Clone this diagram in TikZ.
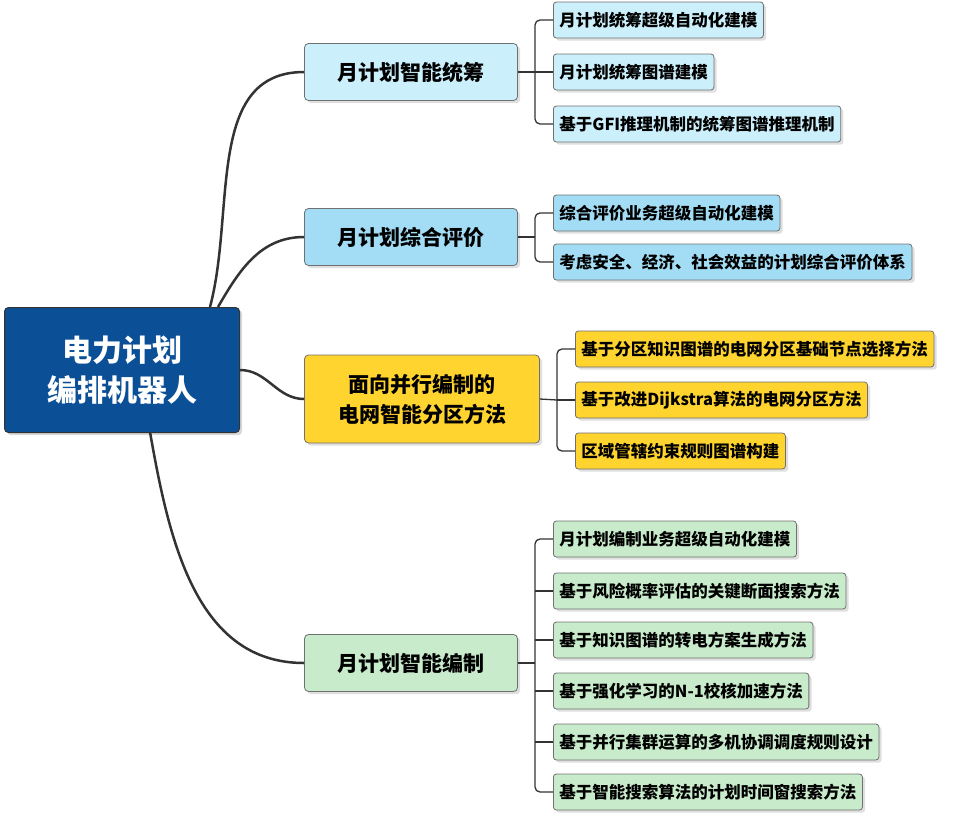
\documentclass[tikz,border=0pt]{standalone}
\usepackage{fontspec}
\setmainfont{Noto Sans CJK SC}
\usetikzlibrary{shadows}
\definecolor{rootblue}{HTML}{0B4F96}
\definecolor{cyanA}{HTML}{CBEFFB}
\definecolor{cyanB}{HTML}{A3DDF5}
\definecolor{yel}{HTML}{FFD42E}
\definecolor{grn}{HTML}{C8EBCB}
\definecolor{lin}{HTML}{333333}
\tikzset{
  rootbox/.style={draw=lin, line width=1pt, fill=rootblue, rounded corners=4pt, text=white,
    font=\fontsize{30}{40}\selectfont\bfseries, minimum width=235pt, minimum height=125pt,
    align=center, drop shadow={opacity=0.3}},
  mainbox/.style={draw=lin!70, line width=0.8pt, rounded corners=4pt, font=\fontsize{21}{30}\selectfont\bfseries,
    minimum width=213pt, minimum height=57pt, align=center, drop shadow={opacity=0.25}},
  leafbox/.style={draw=lin!70, line width=0.8pt, rounded corners=3pt, font=\fontsize{16.5}{20}\selectfont\bfseries,
    minimum height=36pt, inner xsep=6pt, anchor=west, drop shadow={opacity=0.25}},
  link/.style={draw=lin, line width=2.5pt},
  sublink/.style={draw=lin, line width=1.3pt, rounded corners=5pt}
}
\begin{document}
\begin{tikzpicture}[x=1pt, y=-1pt]
\useasboundingbox (0,0) rectangle (977,815);

\node[rootbox] (root) at (122,370) {电力计划\\编排机器人};

\node[mainbox, fill=cyanA] (m1) at (411,72) {月计划智能统筹};
\node[mainbox, fill=cyanB] (m2) at (411,237) {月计划综合评价};
\node[mainbox, fill=yel, minimum width=235pt, minimum height=88pt] (m3) at (422,399) {面向并行编制的\\电网智能分区方法};
\node[mainbox, fill=grn] (m4) at (411,663) {月计划智能编制};

% root to branches
\draw[link] (210,307) to[out=75, in=180] (m1.west);
\draw[link] (218,307) to[out=60, in=180] (m2.west);
\draw[link] (root.east) to[out=0, in=180] (m3.west);
\draw[link] (150,432) to[out=-80, in=180] (m4.west);

% leaves
\node[leafbox, fill=cyanA] (a1) at (553,20) {月计划统筹超级自动化建模};
\node[leafbox, fill=cyanA] (a2) at (553,72) {月计划统筹图谱建模};
\node[leafbox, fill=cyanA] (a3) at (553,124) {基于GFI推理机制的统筹图谱推理机制};

\node[leafbox, fill=cyanB] (b1) at (553,213) {综合评价业务超级自动化建模};
\node[leafbox, fill=cyanB] (b2) at (553,262) {考虑安全、经济、社会效益的计划综合评价体系};

\node[leafbox, fill=yel] (c1) at (575,349) {基于分区知识图谱的电网分区基础节点选择方法};
\node[leafbox, fill=yel] (c2) at (575,400) {基于改进Dijkstra算法的电网分区方法};
\node[leafbox, fill=yel] (c3) at (575,451) {区域管辖约束规则图谱构建};

\node[leafbox, fill=grn] (d1) at (553,539) {月计划编制业务超级自动化建模};
\node[leafbox, fill=grn] (d2) at (553,591) {基于风险概率评估的关键断面搜索方法};
\node[leafbox, fill=grn] (d3) at (553,640) {基于知识图谱的转电方案生成方法};
\node[leafbox, fill=grn] (d4) at (553,691) {基于强化学习的N-1校核加速方法};
\node[leafbox, fill=grn] (d5) at (553,742) {基于并行集群运算的多机协调调度规则设计};
\node[leafbox, fill=grn] (d6) at (553,792) {基于智能搜索算法的计划时间窗搜索方法};

% brackets
\draw[sublink] (m1.east) -- (535,72);
\draw[sublink] (a1.west) -- (535,20) -- (535,124) -- (a3.west);
\draw[sublink] (535,72) -- (a2.west);

\draw[sublink] (m2.east) -- (535,237);
\draw[sublink] (b1.west) -- (535,213) -- (535,262) -- (b2.west);

\draw[sublink] (m3.east) -- (557,400);
\draw[sublink] (c1.west) -- (557,349) -- (557,451) -- (c3.west);
\draw[sublink] (557,400) -- (c2.west);

\draw[sublink] (m4.east) -- (535,663);
\draw[sublink] (d1.west) -- (535,539) -- (535,792) -- (d6.west);
\foreach \n/\y in {d2/591, d3/640, d4/691, d5/742}
  \draw[sublink] (535,\y) -- (\n.west);
\end{tikzpicture}
\end{document}
